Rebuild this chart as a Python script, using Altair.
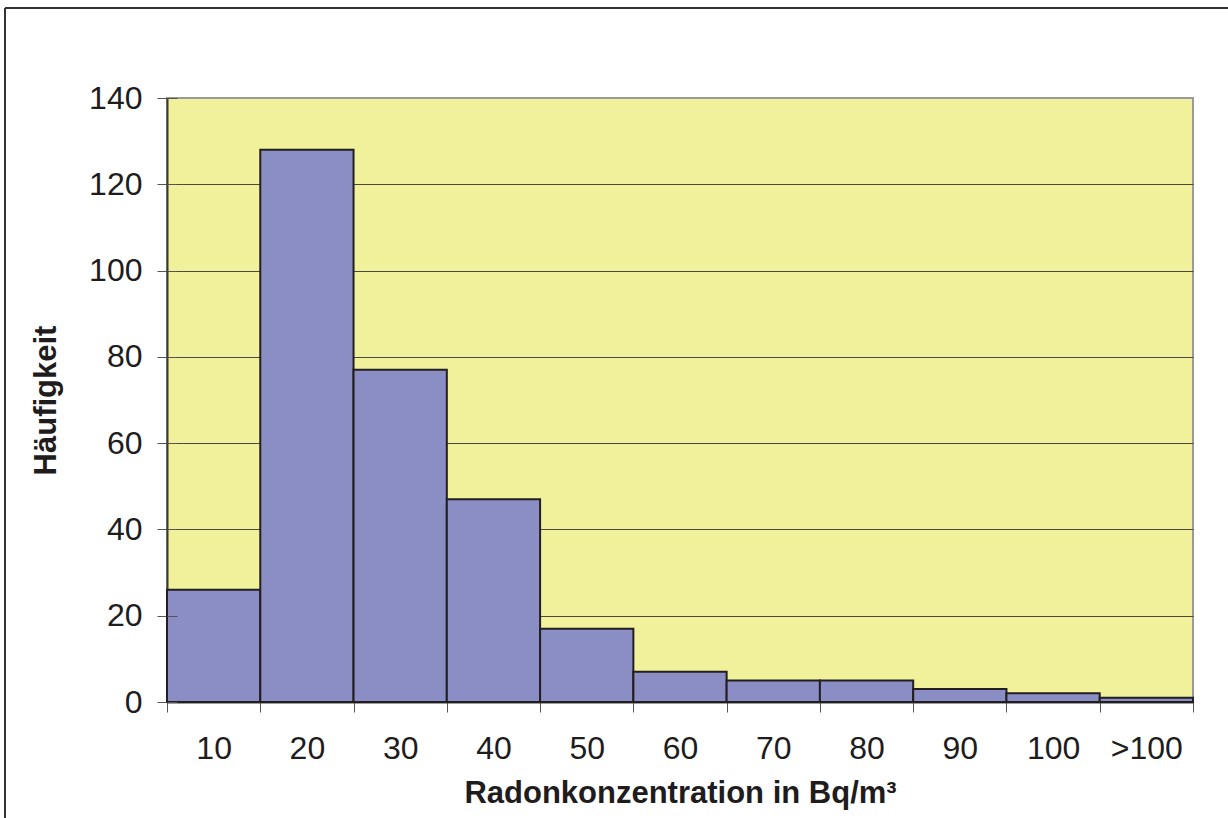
import altair as alt
import pandas as pd

# ---- data ----
categories = ["10", "20", "30", "40", "50", "60", "70", "80", "90", "100", ">100"]
counts = [26, 128, 77, 47, 17, 7, 5, 5, 3, 2, 1]
y_ticks = [0, 20, 40, 60, 80, 100, 120, 140]

df = pd.DataFrame({"Klasse": categories, "Anzahl": counts})

FONT = "Liberation Sans"
TEXT = "#1f1c1d"
W, H = 1026, 604
PAD_L, PAD_T = 167, 98
TOTAL_W, TOTAL_H = 1228, 818

xscale = alt.Scale(paddingInner=0, paddingOuter=0)
yscale = alt.Scale(domain=[0, 140], nice=False)

x_enc = alt.X(
    "Klasse:N",
    sort=categories,
    scale=xscale,
    axis=alt.Axis(
        title="Radonkonzentration in Bq/m³",
        labelAngle=0,
        tickBand="extent",
        tickSize=10,
        tickColor="#555555",
        tickWidth=1,
        domainColor="#3a3a3a",
        domainWidth=2,
        labelFont=FONT,
        labelFontSize=32,
        labelColor=TEXT,
        labelPadding=21,
        titleFont=FONT,
        titleFontSize=31,
        titleFontWeight="bold",
        titleColor=TEXT,
        titlePadding=14,
        grid=False,
    ),
)

bars = alt.Chart(df).mark_bar(
    fill="#8a8ec4", stroke="#231f20", strokeWidth=2
).encode(
    x=x_enc,
    y=alt.Y(
        "Anzahl:Q",
        scale=yscale,
        axis=alt.Axis(
            title="Häufigkeit",
            values=y_ticks,
            tickSize=10,
            tickColor="#555555",
            domainColor="#3a3a3a",
            domainWidth=2,
            grid=True,
            gridColor={
                "condition": {"test": "datum.value === 140", "value": "#9a9a9a"},
                "value": "#4a4a40",
            },
            gridWidth=1,
            labelFont=FONT,
            labelFontSize=32,
            labelColor=TEXT,
            labelPadding=15,
            titleFont=FONT,
            titleFontSize=31,
            titleFontWeight="bold",
            titleColor=TEXT,
            titlePadding=26,
        ),
    ),
)

# inner half of the crossing y-axis ticks
inner = alt.Chart(df).mark_bar(opacity=0).encode(
    x=alt.X("Klasse:N", sort=categories, scale=xscale),
    y=alt.Y(
        "Anzahl:Q",
        scale=yscale,
        axis=alt.Axis(
            orient="right",
            offset=-W,
            values=y_ticks,
            labels=False,
            domain=False,
            grid=False,
            title=None,
            tickSize=10,
            tickColor="#555555",
            zindex=2,
        ),
    ),
)

# outer frame of the whole figure (top and left edges)
frame_top = alt.Chart(df).mark_rule(color="#333333", strokeWidth=1.2).encode(
    x=alt.value(5 - PAD_L), x2=alt.value(TOTAL_W - PAD_L), y=alt.value(8 - PAD_T)
)
frame_left = alt.Chart(df).mark_rule(color="#333333", strokeWidth=1.2).encode(
    x=alt.value(5 - PAD_L), y=alt.value(8 - PAD_T), y2=alt.value(TOTAL_H - PAD_T)
)

chart = (
    alt.layer(bars, inner, frame_top, frame_left)
    .resolve_axis(y="independent")
    .properties(
        width=W,
        height=H,
        autosize=alt.AutoSizeParams(type="none"),
        padding={"left": PAD_L, "top": PAD_T, "right": TOTAL_W - PAD_L - W, "bottom": TOTAL_H - PAD_T - H},
        background="white",
    )
    .configure_view(fill="#f2f19b", stroke="#9a9a9a", strokeWidth=2)
)

chart.save("out.html", embed_options={"renderer": "svg", "actions": False})
